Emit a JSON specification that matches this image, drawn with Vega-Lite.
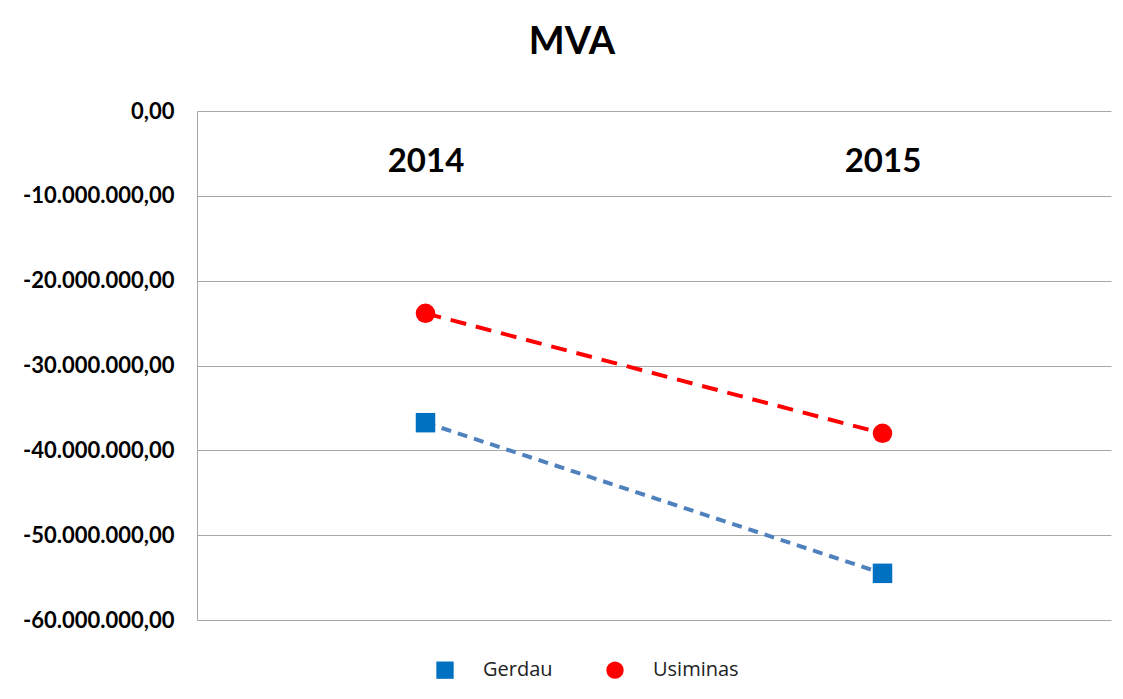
{
  "$schema": "https://vega.github.io/schema/vega-lite/v6.json",
  "width": 914,
  "height": 509,
  "autosize": {"type": "none"},
  "padding": {"left": 197, "top": 111, "right": 12, "bottom": 79},
  "background": "white",
  "title": {
    "text": "MVA",
    "font": "Lato",
    "fontSize": 38,
    "fontWeight": "bold",
    "color": "black",
    "anchor": "middle",
    "dx": -82,
    "offset": 38
  },
  "data": {
    "values": [
      {"company": "Gerdau", "year": "2014", "value": -36740000},
      {"company": "Gerdau", "year": "2015", "value": -54500000},
      {"company": "Usiminas", "year": "2014", "value": -23850000},
      {"company": "Usiminas", "year": "2015", "value": -38000000}
    ]
  },
  "encoding": {
    "x": {
      "field": "year",
      "type": "ordinal",
      "scale": {"type": "point", "padding": 0.5},
      "axis": {
        "orient": "top",
        "title": null,
        "domain": false,
        "ticks": false,
        "grid": false,
        "labelAngle": 0,
        "labelFont": "Lato",
        "labelFontSize": 33,
        "labelFontWeight": "bold",
        "labelColor": "black",
        "labelPadding": -67
      }
    },
    "y": {
      "field": "value",
      "type": "quantitative",
      "scale": {"domain": [-60000000, 0], "nice": false, "zero": false},
      "axis": {
        "title": null,
        "values": [0, -10000000, -20000000, -30000000, -40000000, -50000000, -60000000],
        "labelExpr": "replace(replace(replace((datum.value < 0 ? '-' : '') + format(abs(datum.value), ',.2f'), /,/g, '_'), /\\./g, ','), /_/g, '.')",
        "ticks": false,
        "domain": true,
        "domainColor": "#a6a6a6",
        "gridColor": "#a6a6a6",
        "gridWidth": 1,
        "labelFont": "Lato",
        "labelFontSize": 22,
        "labelFontWeight": "bold",
        "labelColor": "black",
        "labelPadding": 23
      }
    }
  },
  "layer": [
    {
      "transform": [{"filter": "datum.company === 'Gerdau'"}],
      "mark": {"type": "line", "strokeWidth": 4, "color": "#4F81BD", "strokeDash": [10, 7]},
      "encoding": {"detail": {"field": "company"}}
    },
    {
      "transform": [{"filter": "datum.company === 'Usiminas'"}],
      "mark": {"type": "line", "strokeWidth": 4, "color": "#FF0000", "strokeDash": [16, 10]},
      "encoding": {"detail": {"field": "company"}}
    },
    {
      "mark": {"type": "point", "filled": true, "opacity": 1, "size": 380, "strokeWidth": 0},
      "encoding": {
        "fill": {
          "field": "company",
          "type": "nominal",
          "title": null,
          "scale": {"domain": ["Gerdau", "Usiminas"], "range": ["#0070C0", "#FF0000"]}
        },
        "shape": {
          "field": "company",
          "type": "nominal",
          "title": null,
          "scale": {"domain": ["Gerdau", "Usiminas"], "range": ["square", "circle"]}
        }
      }
    }
  ],
  "config": {
    "view": {"stroke": null},
    "legend": {
      "orient": "none",
      "legendX": 238,
      "legendY": 549,
      "direction": "horizontal",
      "labelFont": "Open Sans",
      "labelFontSize": 20,
      "labelColor": "#222222",
      "symbolSize": 300,
      "symbolOpacity": 1,
      "columnPadding": 50,
      "labelOffset": 28
    }
  }
}
